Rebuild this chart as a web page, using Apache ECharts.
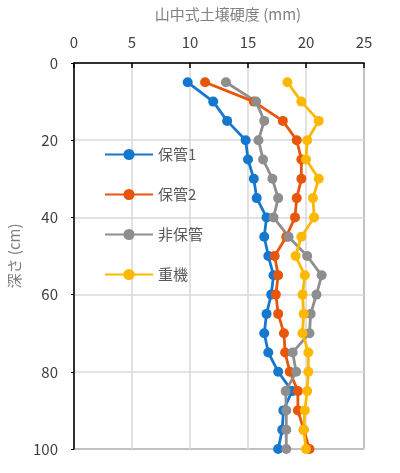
<!DOCTYPE html>
<html>
<head>
<meta charset="utf-8">
<script src="https://cdn.jsdelivr.net/npm/echarts@6/dist/echarts.min.js"></script>
<style>
  html, body { margin: 0; padding: 0; background: #fff; }
  #chart { width: 400px; height: 473px; }
</style>
</head>
<body>
<div id="chart"></div>
<script>
// depth (cm)
var depths = [5, 10, 15, 20, 25, 30, 35, 40, 45, 50, 55, 60, 65, 70, 75, 80, 85, 90, 95, 100];

// hardness (mm) per series
var hokan1 = [9.8, 12.0, 13.2, 14.8, 15.0, 15.5, 15.75, 16.6, 16.4, 16.75, 17.2, 17.0, 16.6, 16.4, 16.75, 17.6, 18.8, 18.05, 17.95, 17.6];
var hokan2 = [11.3, 15.5, 18.0, 19.2, 19.6, 19.6, 19.2, 19.05, 18.3, 17.3, 17.6, 17.4, 17.6, 18.1, 18.2, 18.6, 19.3, 19.3, 19.8, 20.3];
var hihokan = [13.1, 15.7, 16.4, 15.9, 16.3, 17.1, 17.6, 17.2, 18.5, 20.1, 21.35, 20.9, 20.4, 20.3, 18.85, 19.15, 18.25, 18.3, 18.3, 18.3];
var juki = [18.4, 19.6, 21.1, 20.1, 20.0, 21.1, 20.6, 20.7, 19.6, 19.1, 19.9, 19.7, 19.8, 19.7, 20.2, 20.2, 20.1, 19.9, 19.8, 20.0];

var seriesNames = ['保管1', '保管2', '非保管', '重機'];
var seriesValues = [hokan1, hokan2, hihokan, juki];
var seriesColors = ['#1677CF', '#E8560C', '#8E8E8E', '#FFB800'];

var xTitle = '山中式土壌硬度 (mm)';
var yTitle = '深さ (cm)';

var font = '"Noto Sans CJK JP", "Noto Sans", sans-serif';

function pairs(vals){
    var out = [];
    for (var i = 0; i < vals.length; i++) {
        out.push([vals[i], depths[i]]);
    }
    return out;
}

var series = [];
for (var s = 0; s < seriesNames.length; s++) {
    series.push({
        name: seriesNames[s],
        type: 'line',
        symbol: 'circle',
        symbolSize: 10,
        color: seriesColors[s],
        lineStyle: { width: 2.8, color: seriesColors[s] },
        itemStyle: { color: seriesColors[s] },
        data: pairs(seriesValues[s]),
        animation: false
    });
}

var chart = echarts.init(document.getElementById('chart'));
chart.setOption({
    animation: false,
    textStyle: { fontFamily: font },
    grid: {
        left: 74, right: 36, top: 63, bottom: 24,
        outerBoundsMode: 'none',
        containLabel: false,
        show: true,
        borderColor: '#000',
        borderWidth: 1
    },
    legend: {
        orient: 'vertical',
        left: 99,
        top: 142,
        itemWidth: 48,
        itemHeight: 14,
        itemGap: 25,
        textStyle: { color: '#595959', fontSize: 15, lineHeight: 15, fontFamily: font },
        data: seriesNames
    },
    xAxis: {
        type: 'value',
        position: 'top',
        min: 0, max: 25, interval: 5,
        name: xTitle,
        nameLocation: 'middle',
        nameGap: 41,
        nameTextStyle: { color: '#808080', fontSize: 15, padding: [0, 0, 0, 18] },
        axisLine: { show: true, lineStyle: { color: '#000', width: 1.5 } },
        axisTick: { show: true, inside: true, length: 5, lineStyle: { color: '#000', width: 1.5 } },
        axisLabel: { color: '#404040', fontSize: 15, margin: 13 },
        splitLine: { show: true, lineStyle: { color: '#D9D9D9', width: 1.5 } }
    },
    yAxis: {
        type: 'value',
        inverse: true,
        min: 0, max: 100, interval: 20,
        name: yTitle,
        nameLocation: 'middle',
        nameGap: 45,
        nameRotate: 90,
        nameTextStyle: { color: '#808080', fontSize: 15 },
        axisLine: { show: true, lineStyle: { color: '#000', width: 1.5 } },
        axisTick: { show: true, length: 3, lineStyle: { color: '#000' } },
        axisLabel: { color: '#404040', fontSize: 15, margin: 16 },
        splitLine: { show: true, lineStyle: { color: '#D9D9D9', width: 1.5 } }
    },
    series: series
});
</script>
</body>
</html>
